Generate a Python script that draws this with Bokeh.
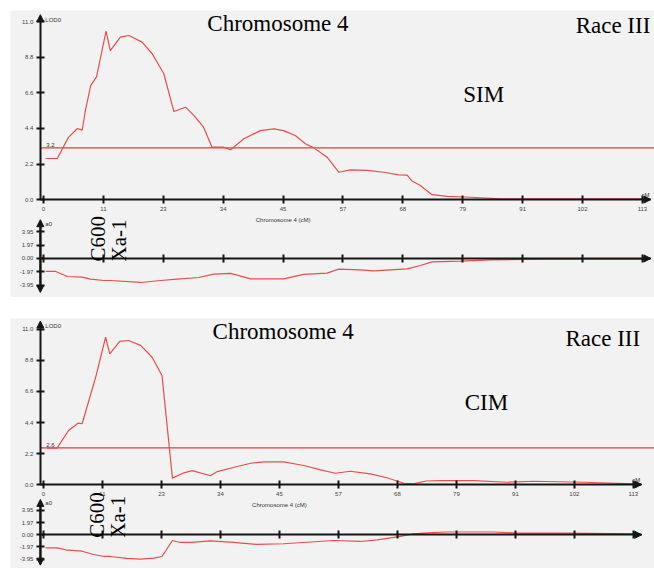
import math
from bokeh.plotting import figure
from bokeh.models import Range1d, LinearAxis, FixedTicker, Label, Arrow, NormalHead, Spacer
from bokeh.layouts import column
from bokeh.embed import file_html
from bokeh.resources import INLINE

# ---------------- data ----------------
x_ticks = [0.0, 11.3, 22.6, 33.9, 45.2, 56.5, 67.8, 79.1, 90.4, 101.7, 113.0]
x_tick_labels = ["0", "11", "23", "34", "45", "57", "68", "79", "91", "102", "113"]
lod_ticks = [0.0, 2.2, 4.4, 6.6, 8.8, 11.0]
lod_tick_labels = ["0.0", "2.2", "4.4", "6.6", "8.8", "11.0"]
add_ticks = [-3.95, -1.97, 0.0, 1.97, 3.95]
add_tick_labels = ["-3.95", "-1.97", "0.00", "1.97", "3.95"]
marker_names = ["C600", "Xa-1"]
marker_pos = 11.0

# SIM panel
sim_pos = [0.4, 2.6, 4.7, 6.4, 7.3, 7.9, 8.9, 10.0, 11.8, 12.6, 14.5, 16.1, 18.6, 20.5,
           22.7, 24.6, 26.8, 28.4, 30.2, 31.8, 34.0, 35.3, 37.8, 40.9, 43.5, 45.3,
           47.5, 49.4, 51.0, 53.5, 55.7, 57.9, 61.1, 64.2, 67.0, 68.6, 69.6, 71.1,
           73.3, 76.2, 80.6, 86.2, 113.0]
sim_lod = [2.54, 2.54, 3.85, 4.40, 4.30, 5.50, 7.06, 7.60, 10.43, 9.23, 10.06, 10.16, 9.75, 9.03,
           7.79, 5.45, 5.72, 5.20, 4.48, 3.24, 3.24, 3.08, 3.76, 4.27, 4.38, 4.27,
           3.97, 3.45, 3.20, 2.62, 1.69, 1.84, 1.80, 1.69, 1.53, 1.51, 1.13, 0.87,
           0.30, 0.19, 0.14, 0.04, 0.04]
sim_add_pos = [0.4, 2.3, 4.5, 7.3, 8.9, 11.4, 12.6, 18.3, 22.1, 25.2, 29.3, 32.1, 35.3,
               39.1, 45.3, 49.1, 53.5, 55.7, 59.8, 62.3, 68.6, 71.1, 73.3, 78.7, 84.3,
               95.0, 113.0]
sim_add = [-1.91, -1.91, -2.65, -2.75, -3.04, -3.24, -3.24, -3.53, -3.24, -3.04, -2.80, -2.30, -2.20,
           -2.99, -2.99, -2.35, -2.16, -1.57, -1.67, -1.81, -1.52, -1.03, -0.49, -0.40, -0.20,
           -0.10, -0.10]
sim_threshold = 3.2
sim_threshold_label = "3.2"

# CIM panel
cim_pos = [0.7, 2.6, 4.8, 6.6, 7.4, 8.7, 10.0, 11.9, 12.7, 14.6, 16.3, 18.6, 20.8, 22.7,
           24.7, 26.9, 28.5, 32.0, 33.3, 37.1, 39.7, 42.2, 46.0, 49.9, 53.1, 55.9,
           58.8, 62.6, 65.8, 69.0, 70.9, 73.3, 76.1, 82.4, 88.8, 93.9, 103.5, 113.0]
cim_lod = [2.58, 2.58, 3.83, 4.35, 4.31, 5.96, 7.62, 10.45, 9.27, 10.15, 10.22, 9.87, 9.03, 7.74,
           0.45, 0.83, 0.99, 0.62, 0.92, 1.28, 1.51, 1.61, 1.61, 1.35, 1.04, 0.80,
           0.94, 0.76, 0.48, 0.09, 0.05, 0.25, 0.27, 0.28, 0.16, 0.23, 0.16, 0.05]
cim_add_pos = [0.4, 2.6, 4.2, 7.4, 9.6, 11.6, 12.8, 16.0, 18.6, 21.1, 22.7, 24.7, 26.2,
               28.2, 32.0, 35.8, 40.9, 46.0, 55.6, 60.7, 63.9, 68.4, 70.9, 73.5, 77.3,
               86.3, 90.7, 100.3, 113.0]
cim_add = [-2.10, -2.10, -2.42, -2.65, -3.18, -3.50, -3.50, -3.82, -3.93, -3.77, -3.50, -0.92, -1.24,
           -1.24, -0.97, -1.19, -1.56, -1.45, -0.92, -1.08, -0.81, -0.27, 0.16, 0.32, 0.45,
           0.45, 0.26, 0.26, 0.16]
cim_threshold = 2.6
cim_threshold_label = "2.6"

# ---------------- styling ----------------
BG = "#f2f2f2"
CURVE = "#e64e4e"
THR = "#e23c3c"
AXC = "#151515"
SERIF = "Liberation Serif"
SMALL = "Liberation Sans"


def style_axis(ax):
    ax.axis_line_width = 2
    ax.axis_line_color = AXC
    ax.major_tick_in = 4
    ax.major_tick_out = 4
    ax.major_tick_line_width = 2
    ax.major_tick_line_color = AXC
    ax.minor_tick_line_color = None
    ax.major_label_text_font = SMALL
    ax.major_label_text_font_size = "6px"
    ax.major_label_text_color = "#444444"
    ax.major_label_standoff = 3


def head():
    return NormalHead(size=7, fill_color=AXC, line_color=AXC, line_width=1)


def panel(w, h, xr, yr, ar, lod_x, lod_y, add_x, add_y, thr, thr_lbl, method,
          lod_top, add_lo, add_hi, x_end, title_y, race_y, method_y, title_x, race_x, method_x):
    p = figure(width=w, height=h, x_range=Range1d(*xr), y_range=Range1d(*yr),
               output_backend="svg", toolbar_location=None, min_border=0,
               x_axis_type=None, y_axis_type=None,
               background_fill_color=BG, border_fill_color=BG, outline_line_color=None)
    p.extra_y_ranges = {"add": Range1d(*ar)}
    yaxis_x = -0.6

    # LOD axes
    xax = LinearAxis(fixed_location=0, ticker=FixedTicker(ticks=x_ticks),
                     major_label_overrides=dict(zip(x_ticks, x_tick_labels)),
                     bounds=(yaxis_x, x_end))
    style_axis(xax)
    p.add_layout(xax, "below")
    yax = LinearAxis(fixed_location=yaxis_x, ticker=FixedTicker(ticks=lod_ticks),
                     major_label_overrides=dict(zip(lod_ticks, lod_tick_labels)),
                     bounds=(0, lod_top - 0.2))
    style_axis(yax)
    p.add_layout(yax, "left")

    # additive axes
    xax2 = LinearAxis(fixed_location=0, y_range_name="add", ticker=FixedTicker(ticks=x_ticks),
                      major_label_overrides={t: "" for t in x_ticks},
                      bounds=(yaxis_x, x_end))
    style_axis(xax2)
    p.add_layout(xax2, "below")
    yax2 = LinearAxis(fixed_location=yaxis_x, y_range_name="add",
                      ticker=FixedTicker(ticks=add_ticks),
                      major_label_overrides=dict(zip(add_ticks, add_tick_labels)),
                      bounds=(add_lo + 0.3, add_hi - 0.3))
    style_axis(yax2)
    p.add_layout(yax2, "left")

    # arrow heads
    p.add_layout(Arrow(end=head(), x_start=yaxis_x, y_start=lod_top - 0.4, x_end=yaxis_x, y_end=lod_top,
                       line_width=2, line_color=AXC))
    p.add_layout(Arrow(start=head(), end=head(), x_start=yaxis_x, y_start=add_lo, x_end=yaxis_x,
                       y_end=add_hi, y_range_name="add", line_width=2, line_color=AXC))
    p.add_layout(Arrow(end=head(), x_start=x_end - 1.5, y_start=0, x_end=x_end, y_end=0,
                       line_width=2, line_color=AXC))
    p.add_layout(Arrow(end=head(), x_start=x_end - 1.5, y_start=0, x_end=x_end, y_end=0,
                       y_range_name="add", line_width=2, line_color=AXC))

    # threshold and curves
    p.segment(x0=[yaxis_x], y0=[thr], x1=[xr[1]], y1=[thr], line_color=THR, line_width=1.3)
    p.line(lod_x, lod_y, line_color=CURVE, line_width=1.2)
    p.line(add_x, add_y, line_color=CURVE, line_width=1.2, y_range_name="add")

    # small axis texts
    small = dict(text_font=SMALL, text_font_size="6px", text_color="#333333")
    p.add_layout(Label(x=yaxis_x, y=lod_top, x_offset=5, y_offset=-5, text="LOD0",
                       text_baseline="middle", **small))
    p.add_layout(Label(x=yaxis_x, y=add_hi, x_offset=5, y_offset=-4, text="a0",
                       text_baseline="middle", y_range_name="add", **small))
    p.add_layout(Label(x=yaxis_x, y=thr, x_offset=6, y_offset=1, text=thr_lbl,
                       text_baseline="bottom", **small))
    p.add_layout(Label(x=x_ticks[-1], y=0, x_offset=-1, y_offset=2, text="cM",
                       text_baseline="bottom", **small))
    p.add_layout(Label(x=x_ticks[4], y=0, y_offset=-20, text="Chromosome 4 (cM)",
                       text_align="center", text_baseline="middle", **small))

    # marker names (vertical)
    for i, name in enumerate(marker_names):
        p.add_layout(Label(x=marker_pos, y=0, y_range_name="add", x_offset=-4 + 21 * i, y_offset=-3,
                           angle=math.pi / 2, text=name, text_font=SERIF, text_font_size="21px",
                           text_color="black", text_align="left", text_baseline="alphabetic"))

    big = dict(text_font=SERIF, text_font_size="23px", text_color="black",
               text_baseline="alphabetic", y_offset=8)
    p.add_layout(Label(x=title_x, y=title_y, text="Chromosome 4", **big))
    p.add_layout(Label(x=race_x, y=race_y, text="Race III", **big))
    p.add_layout(Label(x=method_x, y=method_y, text=method, **big))
    return p


p1 = panel(644, 287, (-6.23, 115.28), (-6.07, 11.71), (-5.74, 36.47),
           sim_pos, sim_lod, sim_add_pos, sim_add, sim_threshold, sim_threshold_label, "SIM",
           lod_top=11.45, add_lo=-5.0, add_hi=5.7, x_end=114.6,
           title_y=10.38, race_y=10.26, method_y=6.03, title_x=30.9, race_x=100.4, method_x=79.2)
p1.margin = (10, 0, 0, 10)

p2 = panel(644, 250, (-6.32, 117.05), (-5.96, 11.78), (-5.44, 34.89),
           cim_pos, cim_lod, cim_add_pos, cim_add, cim_threshold, cim_threshold_label, "CIM",
           lod_top=11.6, add_lo=-4.9, add_hi=5.7, x_end=114.6,
           title_y=10.27, race_y=9.8, method_y=5.25, title_x=32.4, race_x=100.0, method_x=80.7)
p2.margin = (0, 0, 0, 10)

layout = column(p1, Spacer(height=21), p2, spacing=0)

with open("out.html", "w") as f:
    f.write(file_html(layout, INLINE))
